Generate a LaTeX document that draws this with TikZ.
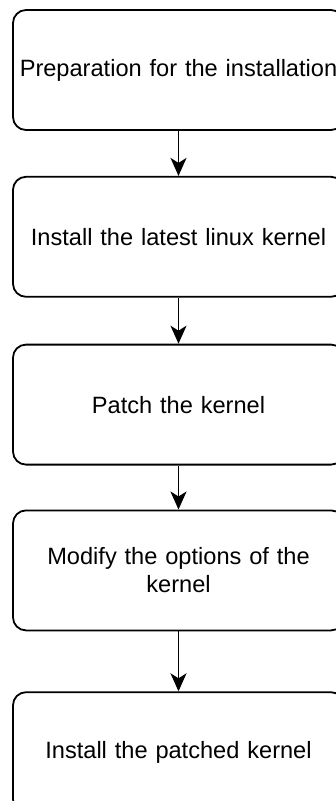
\documentclass[tikz,border=0pt]{standalone}
\usepackage{fontspec}
\setmainfont{Liberation Sans}
\usetikzlibrary{positioning,arrows.meta}

\tikzset{
  stepbox/.style={draw, line width=1.8pt, rounded corners=13pt, minimum width=331pt,
    minimum height=120pt, text width=320pt, align=center, inner sep=0pt,
    font=\fontsize{23.6}{28}\selectfont},
  flow/.style={-{Stealth[length=18pt,width=16pt,inset=5pt]}, line width=1.8pt}
}

\begin{document}
\begin{tikzpicture}[x=1pt,y=1pt]
        \useasboundingbox (0,0) rectangle (336,-801);
        \clip (0,0) rectangle (336,-801);
        \node[stepbox] (prep) at (178.5,-70) {Preparation for the installation};
        \node[stepbox, below=45pt of prep] (latest) {Install the latest linux kernel};
        \node[stepbox, below=46pt of latest] (patch) {Patch the kernel};
        \node[stepbox, below=44pt of patch] (options) {Modify the options of the\\kernel};
        \node[stepbox, below=60pt of options] (patched) {Install the patched kernel};

        \draw[flow] (prep) -- (latest);
        \draw[flow] (latest) -- (patch);
        \draw[flow] (patch) -- (options);
        \draw[flow] (options) -- (patched);
    \end{tikzpicture}
\end{document}
